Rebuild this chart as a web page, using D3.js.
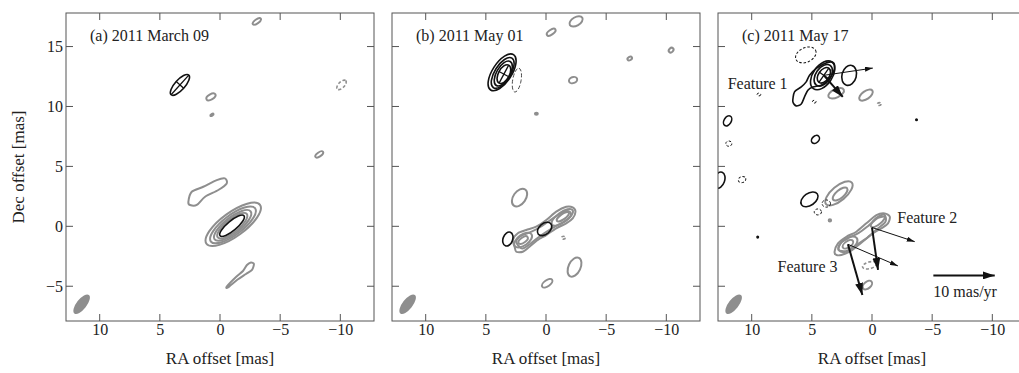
<!DOCTYPE html>
<html><head><meta charset="utf-8">
<script src="https://cdn.jsdelivr.net/npm/d3@7"></script>
<style>
html,body{margin:0;padding:0;background:#fff;}
svg text{font-family:"Liberation Serif","Times New Roman",serif;fill:#222;}
</style></head>
<body><svg id="c" width="1019" height="373"></svg>
<script>
// ---------- data ----------
const panelTitles = ["(a) 2011 March 09", "(b) 2011 May 01", "(c) 2011 May 17"];
const raDomain = [12.8, -12.8];
const decDomain = [-7.9, 17.8];
const raTicks = [10, 5, 0, -5, -10];
const decTicks = [15, 10, 5, 0, -5];
const xTitle = "RA offset [mas]";
const yTitle = "Dec offset [mas]";

// beam: [ra, dec, semi-major, semi-minor, angle]
const beam = [11.5, -6.5, 0.98, 0.42, 52];

// ellipse contours: [ra, dec, a, b, angle(deg), kind]
// kinds: g gray, gd gray dashed, k black, kc black with cross, kd black dashed, kt thin dashed
const ellipsesA = [
  [-3.06, 17.1, 0.4, 0.17, 35, "g"],
  [3.33, 11.8, 1.1, 0.42, 48, "kc"],
  [0.75, 10.8, 0.42, 0.22, 30, "g"],
  [0.67, 9.3, 0.15, 0.07, 30, "g"],
  [-10.1, 11.8, 0.5, 0.25, 45, "gd"],
  [-8.25, 6.0, 0.38, 0.17, 35, "g"],
  [-1.1, 0.17, 2.75, 1.0, 36, "g"],
  [-1.08, 0.12, 2.3, 0.82, 37, "g"],
  [-1.05, 0.08, 1.9, 0.67, 38, "g"],
  [-1.02, 0.05, 1.55, 0.55, 39, "g"],
  [-1.0, 0.05, 1.3, 0.4, 40, "k"]
];
const ellipsesB = [
  [-0.43, 16.2, 0.42, 0.2, 35, "g"],
  [-2.5, 17.1, 0.6, 0.35, 30, "g"],
  [-6.96, 14.0, 0.2, 0.14, 30, "g"],
  [-10.4, 14.7, 0.22, 0.17, 45, "g"],
  [-2.25, 12.2, 0.35, 0.25, 20, "g"],
  [3.65, 12.85, 1.75, 0.8, 57, "k"],
  [3.6, 12.8, 1.45, 0.66, 58, "k"],
  [3.55, 12.75, 1.15, 0.56, 60, "k"],
  [3.5, 12.7, 0.85, 0.46, 62, "kc"],
  [2.42, 12.2, 1.0, 0.35, 80, "kt"],
  [0.8, 9.4, 0.12, 0.08, 0, "g"],
  [2.2, 2.4, 0.82, 0.52, 55, "g"],
  [1.9, -1.15, 0.85, 0.45, 35, "g"],
  [1.9, -1.15, 0.45, 0.22, 35, "g"],
  [-1.35, 0.75, 1.05, 0.42, 35, "g"],
  [-1.4, 0.8, 0.6, 0.22, 35, "g"],
  [0.12, -0.22, 0.68, 0.45, 40, "k"],
  [3.17, -1.06, 0.6, 0.4, 70, "k"],
  [-1.45, -0.95, 0.15, 0.12, 0, "gd"],
  [-2.37, -3.4, 0.85, 0.5, 65, "g"],
  [-0.1, -4.75, 0.5, 0.25, 35, "g"]
];
const ellipsesC = [
  [5.5, 14.3, 0.9, 0.6, 25, "kd"],
  [4.1, 12.6, 1.35, 0.8, 55, "k"],
  [4.05, 12.6, 1.0, 0.62, 55, "k"],
  [4.0, 12.6, 0.72, 0.45, 55, "kc"],
  [1.9, 12.6, 0.85, 0.6, 75, "k"],
  [2.98, 11.1, 0.7, 0.35, 25, "g"],
  [0.5, 10.95, 0.65, 0.33, 35, "g"],
  [-0.6, 10.2, 0.15, 0.12, 0, "gd"],
  [4.8, 10.4, 0.15, 0.12, 0, "kd"],
  [9.4, 11.0, 0.15, 0.12, 0, "kd"],
  [12.0, 8.8, 0.45, 0.3, 60, "k"],
  [11.9, 6.9, 0.25, 0.22, 0, "kd"],
  [4.7, 7.25, 0.38, 0.28, 45, "k"],
  [-3.7, 8.9, 0.06, 0.06, 0, "k"],
  [12.7, 3.85, 0.7, 0.45, 70, "k"],
  [10.8, 3.9, 0.32, 0.25, 20, "kd"],
  [5.2, 2.25, 0.8, 0.5, 35, "k"],
  [2.75, 2.75, 1.4, 0.6, 40, "g"],
  [2.65, 2.7, 0.75, 0.33, 40, "g"],
  [3.8, 1.9, 0.35, 0.3, 0, "kd"],
  [4.5, 1.2, 0.3, 0.25, 0, "kd"],
  [3.5, 0.5, 0.1, 0.1, 0, "g"],
  [9.5, -0.9, 0.06, 0.06, 0, "k"],
  [2.0, -1.5, 0.9, 0.5, 35, "g"],
  [2.0, -1.5, 0.5, 0.26, 35, "g"],
  [-0.5, 0.45, 0.75, 0.28, 40, "g"],
  [0.2, -3.25, 0.6, 0.28, 15, "gd"],
  [0.38, -4.9, 0.45, 0.28, 40, "g"]
];

// free-form contours: polygons of [ra, dec]
const blobsA = [
  {kind: "g", pts: [[2.63,2.05],[2.35,2.88],[1.39,3.3],[0.27,3.86],[-0.41,4.0],[-0.56,3.58],[0.14,3.03],[1.24,2.47],[1.93,1.78],[2.49,1.78]]},
  {kind: "g", pts: [[-0.56,-5.03],[-1.33,-4.23],[-1.91,-3.73],[-2.24,-3.23],[-2.57,-3.02],[-2.82,-3.14],[-2.66,-3.64],[-2.16,-3.98],[-1.41,-4.48],[-0.66,-5.1]]}
];
const blobsB = [
  {kind: "g", pts: [[2.61,-1.70],[2.76,-1.14],[2.34,-0.58],[1.64,-0.31],[0.81,-0.03],[-0.02,0.53],[-0.85,1.22],[-1.68,1.63],[-2.22,1.58],[-2.45,1.22],[-2.22,0.67],[-1.68,0.25],[-0.85,-0.17],[-0.02,-0.73],[0.68,-1.14],[1.37,-1.70],[1.93,-2.12],[2.47,-2.12]]},
  {kind: "g", pts: [[2.35,-1.55],[2.45,-1.15],[2.0,-0.75],[1.2,-0.45],[0.3,0.05],[-0.7,0.75],[-1.55,1.25],[-2.0,1.2],[-2.05,0.85],[-1.5,0.4],[-0.6,-0.1],[0.4,-0.75],[1.3,-1.45],[1.95,-1.85]]}
];
const blobsC = [
  {kind: "k", pts: [[6.58,10.4],[6.44,11.22],[5.88,11.63],[5.47,12.05],[5.19,12.61],[4.63,13.17],[3.94,13.58],[3.38,13.72],[3.11,13.44],[3.25,12.75],[3.67,12.19],[4.22,11.78],[4.92,11.63],[5.33,11.36],[5.61,10.8],[5.88,10.2],[6.30,10.05]]},
  {kind: "g", pts: [[3.11,-2.12],[2.83,-1.42],[2.13,-0.87],[1.30,-0.45],[0.47,0.25],[-0.37,0.94],[-1.06,1.08],[-1.48,0.80],[-1.33,0.25],[-0.78,-0.17],[-0.08,-0.58],[0.61,-1.14],[1.30,-1.70],[1.86,-2.12],[2.55,-2.39],[2.97,-2.39]]},
  {kind: "g", pts: [[2.8,-1.95],[2.55,-1.35],[1.9,-0.95],[1.1,-0.55],[0.3,0.05],[-0.5,0.7],[-1.1,0.8],[-1.1,0.35],[-0.4,-0.25],[0.4,-0.95],[1.3,-1.55],[2.1,-2.05]]}
];

// proper motions (panel c): origin [ra, dec], velocity [vRA, vDec] in mas/yr
const motionScale = 5.1; // mas on map per 10 mas/yr
const motions = [
  {o: [4.0, 12.6], v: [-7.98, 1.18], w: "thin"},
  {o: [4.0, 12.6], v: [-3.08, -3.53], w: "thick"},
  {o: [0.0, -0.1], v: [-6.96, -2.31], w: "thin"},
  {o: [0.0, -0.1], v: [-0.98, -6.94], w: "thick"},
  {o: [2.0, -1.5], v: [-8.14, -3.53], w: "thin"},
  {o: [2.0, -1.5], v: [-2.35, -8.29], w: "thick"}
];
const featureLabels = [
  {t: "Feature 1", ra: 12.0, dec: 11.45},
  {t: "Feature 2", ra: -2.1, dec: 0.3},
  {t: "Feature 3", ra: 7.85, dec: -3.8}
];
const legendLabel = "10 mas/yr";

// ---------- layout ----------
const svg = d3.select("#c");
const lefts = [66, 392, 718];
const PW = 308, PTOP = 13, PH = 308;
const GRAY = "#8e8e8e", BLACK = "#111", FRAME = "#555";

const defs = svg.append("defs");
function marker(id, len, wid) {
  defs.append("marker").attr("id", id).attr("markerUnits", "userSpaceOnUse")
    .attr("viewBox", `0 0 ${len} ${wid}`).attr("refX", len).attr("refY", wid/2)
    .attr("markerWidth", len).attr("markerHeight", wid).attr("orient", "auto")
    .append("path").attr("d", `M0,0L${len},${wid/2}L0,${wid}Z`).attr("fill", BLACK);
}
marker("hthin", 8, 5);
marker("hthick", 12, 8);

const allEll = [ellipsesA, ellipsesB, ellipsesC];
const allBlobs = [blobsA, blobsB, blobsC];

function styleOf(kind) {
  switch (kind) {
    case "g": return {stroke: GRAY, w: 2, dash: null};
    case "gd": return {stroke: GRAY, w: 1.6, dash: "3,2"};
    case "k": return {stroke: BLACK, w: 1.6, dash: null};
    case "kc": return {stroke: BLACK, w: 1.6, dash: null};
    case "kd": return {stroke: BLACK, w: 1, dash: "2.5,1.8"};
    case "kt": return {stroke: "#444", w: 0.9, dash: "4,2"};
  }
}

panelTitles.forEach((title, i) => {
  const L = lefts[i];
  const x = d3.scaleLinear().domain(raDomain).range([L, L + PW]);
  const y = d3.scaleLinear().domain(decDomain).range([PTOP + PH, PTOP]);
  const kx = Math.abs(x(1) - x(0)), ky = Math.abs(y(1) - y(0));
  const g = svg.append("g");

  const cid = "clip" + i;
  defs.append("clipPath").attr("id", cid).append("rect")
    .attr("x", L).attr("y", PTOP).attr("width", PW).attr("height", PH);
  const plot = g.append("g").attr("clip-path", `url(#${cid})`);

  // beam
  plot.append("ellipse")
    .attr("transform", `translate(${x(beam[0])},${y(beam[1])}) rotate(${-beam[4]})`)
    .attr("rx", beam[2] * kx).attr("ry", beam[3] * ky).attr("fill", GRAY);

  // blobs
  const line = d3.line().x(d => x(d[0])).y(d => y(d[1])).curve(d3.curveCardinalClosed.tension(0.2));
  plot.selectAll(".blob").data(allBlobs[i]).join("path")
    .attr("d", d => line(d.pts)).attr("fill", "none")
    .attr("stroke", d => styleOf(d.kind).stroke)
    .attr("stroke-width", d => styleOf(d.kind).w)
    .attr("stroke-linejoin", "round");

  // ellipses
  const eg = plot.selectAll(".ell").data(allEll[i]).join("g")
    .attr("transform", d => `translate(${x(d[0])},${y(d[1])}) rotate(${-d[4]})`);
  eg.append("ellipse")
    .attr("rx", d => Math.max(0.6, d[2] * kx)).attr("ry", d => Math.max(0.6, d[3] * ky))
    .attr("fill", d => (d[2] < 0.1 ? styleOf(d[5]).stroke : "none"))
    .attr("stroke", d => styleOf(d[5]).stroke)
    .attr("stroke-width", d => styleOf(d[5]).w)
    .attr("stroke-dasharray", d => styleOf(d[5]).dash);
  eg.filter(d => d[5] === "kc").each(function(d) {
    const s = d3.select(this);
    s.append("line").attr("x1", -d[2]*kx).attr("x2", d[2]*kx).attr("y1", 0).attr("y2", 0)
      .attr("stroke", BLACK).attr("stroke-width", 1.3);
    s.append("line").attr("y1", -d[3]*ky).attr("y2", d[3]*ky).attr("x1", 0).attr("x2", 0)
      .attr("stroke", BLACK).attr("stroke-width", 1.3);
  });

  // panel c motions and labels
  if (i === 2) {
    const f = motionScale / 10;
    plot.selectAll(".mv").data(motions).join("line")
      .attr("x1", d => x(d.o[0])).attr("y1", d => y(d.o[1]))
      .attr("x2", d => x(d.o[0] + d.v[0] * f)).attr("y2", d => y(d.o[1] + d.v[1] * f))
      .attr("stroke", BLACK).attr("stroke-width", d => d.w === "thick" ? 2 : 1)
      .attr("marker-end", d => d.w === "thick" ? "url(#hthick)" : "url(#hthin)");
    g.selectAll(".fl").data(featureLabels).join("text")
      .attr("x", d => x(d.ra)).attr("y", d => y(d.dec))
      .attr("font-size", 16).text(d => d.t);
    // legend arrow: 10 mas/yr
    const lx0 = x(-5.1), ly = y(-4.1);
    g.append("line").attr("x1", lx0).attr("y1", ly).attr("x2", lx0 + motionScale * kx).attr("y2", ly)
      .attr("stroke", BLACK).attr("stroke-width", 2).attr("marker-end", "url(#hthick)");
    g.append("text").attr("x", lx0).attr("y", ly + 22).attr("font-size", 16).text(legendLabel);
  }

  // frame
  g.append("rect").attr("x", L).attr("y", PTOP).attr("width", PW).attr("height", PH)
    .attr("fill", "none").attr("stroke", FRAME).attr("stroke-width", 1);

  // ticks (inward, all four sides)
  const tl = 7;
  const tk = g.append("g").attr("stroke", FRAME).attr("stroke-width", 1);
  raTicks.forEach(t => {
    tk.append("line").attr("x1", x(t)).attr("x2", x(t)).attr("y1", PTOP + PH).attr("y2", PTOP + PH - tl);
    tk.append("line").attr("x1", x(t)).attr("x2", x(t)).attr("y1", PTOP).attr("y2", PTOP + tl);
  });
  decTicks.forEach(t => {
    tk.append("line").attr("y1", y(t)).attr("y2", y(t)).attr("x1", L).attr("x2", L + tl);
    tk.append("line").attr("y1", y(t)).attr("y2", y(t)).attr("x1", L + PW).attr("x2", L + PW - tl);
  });

  // x tick labels via axis
  const ax = d3.axisBottom(x).tickValues(raTicks).tickSize(0).tickPadding(0).tickFormat(d3.format("d"));
  const axg = g.append("g").attr("transform", `translate(0,${PTOP + PH + 3})`).call(ax);
  axg.select(".domain").remove();
  axg.selectAll("text").attr("font-size", 16).attr("fill", "#222")
    .attr("font-family", '"Liberation Serif","Times New Roman",serif').attr("dy", "0.71em");

  if (i === 0) {
    const ay = d3.axisLeft(y).tickValues(decTicks).tickSize(0).tickPadding(0).tickFormat(d3.format("d"));
    const ayg = g.append("g").attr("transform", `translate(${L - 3},0)`).call(ay);
    ayg.select(".domain").remove();
    ayg.selectAll("text").attr("font-size", 16).attr("fill", "#222")
      .attr("font-family", '"Liberation Serif","Times New Roman",serif');
    g.append("text").attr("transform", `translate(24,${PTOP + PH/2}) rotate(-90)`)
      .attr("text-anchor", "middle").attr("font-size", 17).text(yTitle);
  }

  g.append("text").attr("x", L + PW/2).attr("y", 364).attr("text-anchor", "middle")
    .attr("font-size", 17).text(xTitle);
  g.append("text").attr("x", L + 24).attr("y", 41).attr("font-size", 16).text(title);
});
</script></body></html>
